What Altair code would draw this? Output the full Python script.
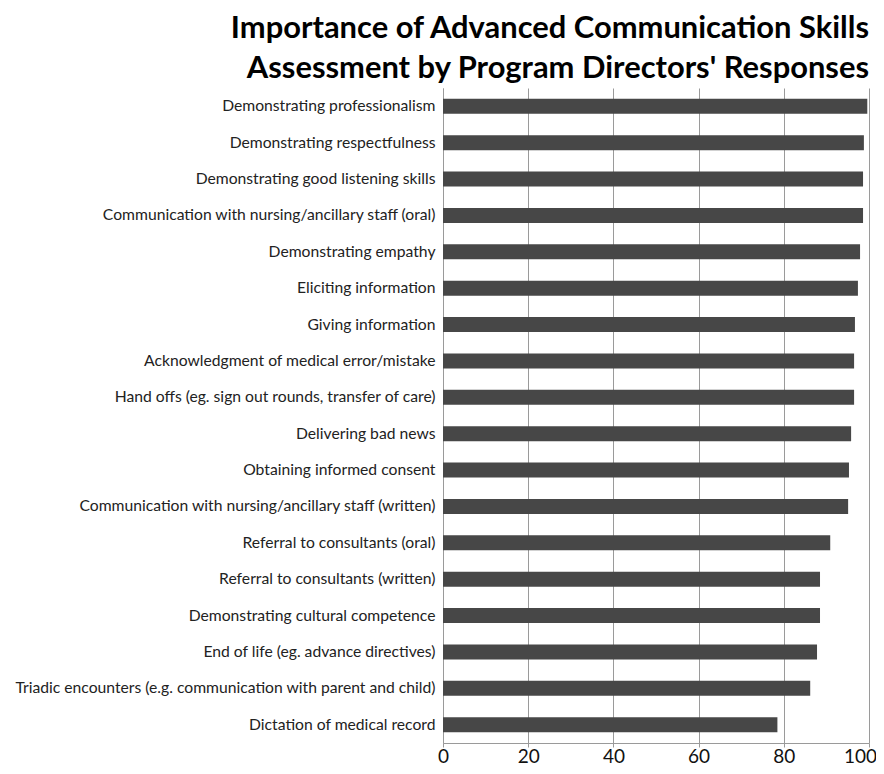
import altair as alt
import pandas as pd

skills = [
    "Demonstrating professionalism",
    "Demonstrating respectfulness",
    "Demonstrating good listening skills",
    "Communication with nursing/ancillary staff (oral)",
    "Demonstrating empathy",
    "Eliciting information",
    "Giving information",
    "Acknowledgment of medical error/mistake",
    "Hand offs (eg. sign out rounds, transfer of care)",
    "Delivering bad news",
    "Obtaining informed consent",
    "Communication with nursing/ancillary staff (written)",
    "Referral to consultants (oral)",
    "Referral to consultants (written)",
    "Demonstrating cultural competence",
    "End of life (eg. advance directives)",
    "Triadic encounters (e.g. communication with parent and child)",
    "Dictation of medical record",
]
values = [99.6, 98.8, 98.6, 98.6, 97.9, 97.4, 96.7, 96.5, 96.5,
          95.8, 95.3, 95.1, 90.9, 88.5, 88.5, 87.8, 86.2, 78.5]
x_ticks = [0, 20, 40, 60, 80, 100]

df = pd.DataFrame({"skill": skills, "value": values})

FONT = "Lato"

chart = alt.Chart(df).mark_bar(color="#474747", size=15).encode(
    x=alt.X("value:Q", scale=alt.Scale(domain=[0, 100], nice=False),
            axis=alt.Axis(values=x_ticks, title=None, grid=True, gridColor="#9a9a9a",
                          domainColor="#9a9a9a", tickColor="#9a9a9a", tickSize=4,
                          labelFontSize=19, labelColor="#111", labelFont=FONT,
                          labelPadding=0, labelFlush=False,
                          labelOffset={"condition": {"test": "datum.value == 100", "value": -9},
                                       "value": 0})),
    y=alt.Y("skill:N", sort=skills, scale=alt.Scale(paddingInner=0.59, paddingOuter=0.3),
            axis=alt.Axis(title=None, ticks=False, domainColor="#9a9a9a",
                          labelFontSize=15.7, labelColor="#222", labelFont=FONT,
                          labelPadding=8, labelLimit=500)),
).properties(
    width=426, height=655,
    autosize=alt.AutoSizeParams(type="none"),
    padding={"left": 435, "top": 80, "right": 7, "bottom": 23},
    title=alt.TitleParams(
        ["Importance of Advanced Communication Skills",
         "Assessment by Program Directors' Responses"],
        anchor="end", fontSize=30.9, font=FONT, fontWeight="bold", color="#000",
        lineHeight=40, offset=3, frame="group"),
).configure_view(stroke=None)

chart.save("out.html", embed_options={"renderer": "svg", "actions": False})
